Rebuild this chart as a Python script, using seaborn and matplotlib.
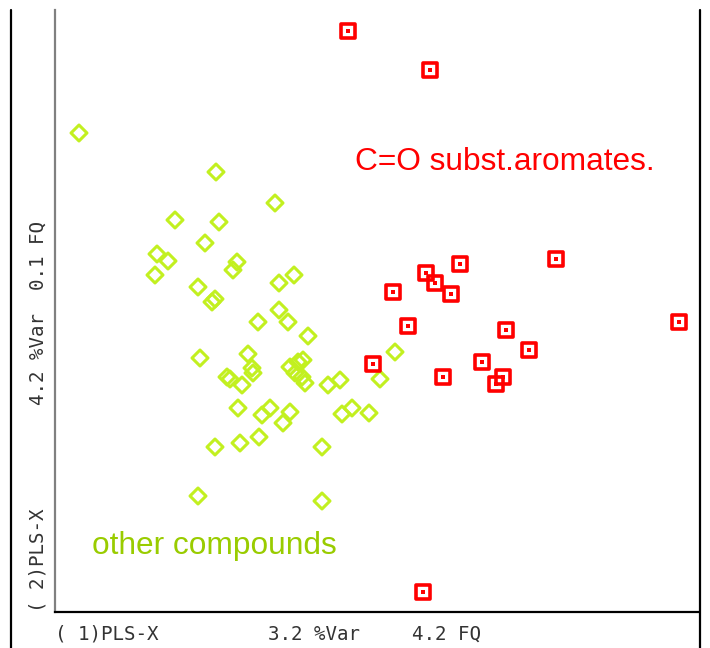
import matplotlib
matplotlib.use("Agg")
import matplotlib.pyplot as plt
from matplotlib.lines import Line2D
import seaborn as sns
import pandas as pd

# PLS score values (t1, t2) (arbitrary score units)
other_t1 = [24, 161, 120, 164, 220, 150, 102, 113, 100, 182, 178, 143, 224, 239,
            157, 160, 224, 203, 233, 253, 340, 145, 193, 197, 198, 172, 175, 187,
            235, 243, 248, 240, 247, 250, 273, 285, 325, 183, 207, 215, 235, 228,
            297, 287, 314, 160, 185, 204, 267, 143, 267]
other_t2 = [479, 440, 392, 390, 409, 369, 358, 351, 337, 350, 342, 325, 329, 337,
            310, 313, 302, 290, 290, 276, 260, 254, 258, 244, 239, 235, 233, 227,
            245, 250, 252, 239, 235, 229, 227, 232, 233, 204, 197, 204, 200, 189,
            204, 198, 199, 165, 169, 175, 165, 116, 111]

co_t1 = [293, 375, 501, 405, 371, 380, 396, 338, 353, 624, 451, 474, 318, 427,
         388, 448, 441, 368]
co_t2 = [581, 542, 353, 348, 339, 329, 318, 320, 286, 290, 282, 262, 248, 250,
         235, 235, 228, 20]

x_label_parts = ["( 1)PLS-X", "3.2 %Var", "4.2 FQ"]
y_label_parts = ["( 2)PLS-X", "4.2 %Var", "0.1 FQ"]
group_labels = ["C=O subst.aromates.", "other compounds"]

W, H = 710, 648
sns.set_style("white")
plt.rcParams["font.family"] = ["Liberation Sans", "DejaVu Sans"]

fig = plt.figure(figsize=(W / 100, H / 100), dpi=100)
ax = fig.add_axes([55 / W, (H - 612) / H, (699 - 55) / W, (612 - 10) / H])

df_other = pd.DataFrame({"t1": other_t1, "t2": other_t2})
df_co = pd.DataFrame({"t1": co_t1, "t2": co_t2})

green = "#c2f020"
sns.scatterplot(data=df_other, x="t1", y="t2", ax=ax, marker="D", s=66,
                facecolor="none", edgecolor=green, linewidth=2.2, legend=False)
sns.scatterplot(data=df_co, x="t1", y="t2", ax=ax, marker="s", s=88,
                facecolor="none", edgecolor="#ff0000", linewidth=2.6, legend=False)
sns.scatterplot(data=df_co, x="t1", y="t2", ax=ax, marker="s", s=5,
                color="#ff0000", edgecolor="none", linewidth=0, legend=False)

ax.set_xlim(0, 644)
ax.set_ylim(0, 602)
ax.set_xticks([])
ax.set_yticks([])
ax.set_xlabel("")
ax.set_ylabel("")
ax.spines["top"].set_visible(False)
ax.spines["right"].set_visible(False)
ax.spines["left"].set_color("#808080")
ax.spines["left"].set_linewidth(1.6)
ax.spines["bottom"].set_color("#000000")
ax.spines["bottom"].set_linewidth(1.6)

ax.text(300, 450, group_labels[0], color="#ff0000", fontsize=22.8, va="center", ha="left")
ax.text(37, 66, group_labels[1], color="#99cc00", fontsize=22.8, va="center", ha="left")

# outer frame lines
fig.add_artist(Line2D([10.5 / W, 10.5 / W], [0, (H - 10) / H], color="black", lw=1.6,
                      transform=fig.transFigure))
fig.add_artist(Line2D([699.5 / W, 699.5 / W], [0, (H - 10) / H], color="black", lw=1.6,
                      transform=fig.transFigure))

mono = dict(family="DejaVu Sans Mono", fontsize=13.8, color="#333333")
for txt, px in zip(x_label_parts, [55, 268, 412]):
    fig.text(px / W, (H - 634) / H, txt, ha="left", va="center", **mono)
for txt, py in zip(y_label_parts, [612, 405, 290]):
    fig.text(38 / W, (H - py) / H, txt, ha="center", va="bottom", rotation=90, **mono)

fig.savefig("out.png", dpi=100)
